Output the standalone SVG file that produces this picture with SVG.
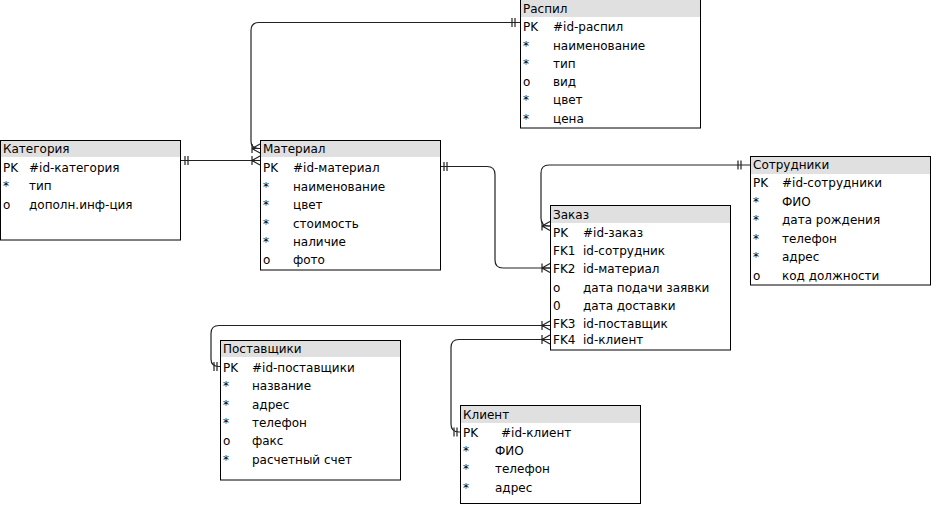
<svg xmlns="http://www.w3.org/2000/svg" xmlns:xlink="http://www.w3.org/1999/xlink" width="931" height="506" viewBox="0 0 931 506">
<style>
.box{fill:#fff;stroke:#000;stroke-width:1}
.hdr{fill:#e0e0e0;stroke:none}
text{font-family:"DejaVu Sans",Verdana,sans-serif;font-size:12px;fill:#000}
.c{fill:none;stroke:#222;stroke-width:1.2}
.m{fill:none;stroke:#222;stroke-width:1.2}
</style>
<defs>
<g id="crow"><path class="m" d="M-8,-4.5V4.5M-8,0L0,-4.5M-8,0L0,4.5M-8,0H0"/></g>
<g id="one"><path class="m" d="M0,-4.5V4.5M3,-4.5V4.5"/></g>
</defs>
<rect width="931" height="506" fill="#fff"/>

<g id="connectors">
<path class="c" d="M520,22.5H259Q251,22.5 251,30.5V141Q251,148.5 259,148.5H260"/>
<use xlink:href="#one" x="512" y="22.5"/>
<use xlink:href="#crow" x="260" y="148.5"/>
<path class="c" d="M181,160.5H260"/>
<use xlink:href="#one" x="185" y="160.5"/>
<use xlink:href="#crow" x="260" y="160.5"/>
<path class="c" d="M441,166.5H487Q495,166.5 495,174.5V260Q495,268 503,268H550"/>
<use xlink:href="#one" x="444" y="166.5"/>
<use xlink:href="#crow" x="550" y="268"/>
<path class="c" d="M750,165H549Q541,165 541,173V218Q541,226 549,226H550"/>
<use xlink:href="#one" x="738" y="165"/>
<use xlink:href="#crow" x="550" y="226"/>
<path class="c" d="M550,325.5H219Q211,325.5 211,333.5V359Q211,366.5 219,366.5H220"/>
<use xlink:href="#crow" x="550" y="325.5"/>
<use xlink:href="#one" x="214" y="366.5"/>
<path class="c" d="M550,339.5H459Q451,339.5 451,347.5V424Q451,432 459,432H460"/>
<use xlink:href="#crow" x="550" y="339.5"/>
<use xlink:href="#one" x="454" y="432"/>
</g>

<g id="raspil">
<rect class="box" x="520.5" y="-0.5" width="180" height="128.5"/>
<rect class="hdr" x="521" y="0" width="179" height="17"/>
<text x="523" y="13">Распил</text>
<text x="523" y="31">PK</text><text x="553" y="31">#id-распил</text>
<text x="523" y="50">*</text><text x="553" y="50">наименование</text>
<text x="523" y="68">*</text><text x="553" y="68">тип</text>
<text x="523" y="86">о</text><text x="553" y="86">вид</text>
<text x="523" y="104">*</text><text x="553" y="104">цвет</text>
<text x="523" y="123">*</text><text x="553" y="123">цена</text>
</g>

<g id="kategoriya">
<rect class="box" x="0.5" y="140.5" width="180" height="99.5"/>
<rect class="hdr" x="1" y="141" width="179" height="16"/>
<text x="3" y="153">Категория</text>
<text x="3" y="172">PK</text><text x="29" y="172">#id-категория</text>
<text x="3" y="190">*</text><text x="29" y="190">тип</text>
<text x="3" y="209">о</text><text x="29" y="209">дополн.инф-ция</text>
</g>

<g id="material">
<rect class="box" x="260.5" y="140.5" width="180" height="129.5"/>
<rect class="hdr" x="261" y="141" width="179" height="16"/>
<text x="263" y="153">Материал</text>
<text x="263" y="172">PK</text><text x="293" y="172">#id-материал</text>
<text x="263" y="191">*</text><text x="293" y="191">наименование</text>
<text x="263" y="209">*</text><text x="293" y="209">цвет</text>
<text x="263" y="228">*</text><text x="293" y="228">стоимость</text>
<text x="263" y="246">*</text><text x="293" y="246">наличие</text>
<text x="263" y="264">о</text><text x="293" y="264">фото</text>
</g>

<g id="zakaz">
<rect class="box" x="550.5" y="205.5" width="180" height="144.5"/>
<rect class="hdr" x="551" y="206" width="179" height="17"/>
<text x="553" y="219">Заказ</text>
<text x="553" y="237">PK</text><text x="583" y="237">#id-заказ</text>
<text x="553" y="255">FK1</text><text x="583" y="255">id-сотрудник</text>
<text x="553" y="273">FK2</text><text x="583" y="273">id-материал</text>
<text x="553" y="292">о</text><text x="583" y="292">дата подачи заявки</text>
<text x="553" y="310">0</text><text x="583" y="310">дата доставки</text>
<text x="553" y="328">FK3</text><text x="583" y="328">id-поставщик</text>
<text x="553" y="344">FK4</text><text x="583" y="344">id-клиент</text>
</g>

<g id="sotrudniki">
<rect class="box" x="750.5" y="156.5" width="180" height="128.5"/>
<rect class="hdr" x="751" y="157" width="179" height="17"/>
<text x="753" y="169">Сотрудники</text>
<text x="753" y="187">PK</text><text x="782" y="187">#id-сотрудники</text>
<text x="753" y="206">*</text><text x="782" y="206">ФИО</text>
<text x="753" y="224">*</text><text x="782" y="224">дата рождения</text>
<text x="753" y="243">*</text><text x="782" y="243">телефон</text>
<text x="753" y="261">*</text><text x="782" y="261">адрес</text>
<text x="753" y="280">о</text><text x="782" y="280">код должности</text>
</g>

<g id="postavshiki">
<rect class="box" x="220.5" y="340.5" width="180" height="139.5"/>
<rect class="hdr" x="221" y="341" width="179" height="16"/>
<text x="223" y="353">Поставщики</text>
<text x="223" y="372">PK</text><text x="252" y="372">#id-поставщики</text>
<text x="223" y="390">*</text><text x="252" y="390">название</text>
<text x="223" y="409">*</text><text x="252" y="409">адрес</text>
<text x="223" y="427">*</text><text x="252" y="427">телефон</text>
<text x="223" y="445">о</text><text x="252" y="445">факс</text>
<text x="223" y="464">*</text><text x="252" y="464">расчетный счет</text>
</g>

<g id="klient">
<rect class="box" x="460.5" y="405.5" width="180" height="98"/>
<rect class="hdr" x="461" y="406" width="179" height="17"/>
<text x="463" y="419">Клиент</text>
<text x="463" y="437">PK</text><text x="501" y="437">#id-клиент</text>
<text x="463" y="455">*</text><text x="495" y="455">ФИО</text>
<text x="463" y="473">*</text><text x="495" y="473">телефон</text>
<text x="463" y="492">*</text><text x="495" y="492">адрес</text>
</g>
</svg>
